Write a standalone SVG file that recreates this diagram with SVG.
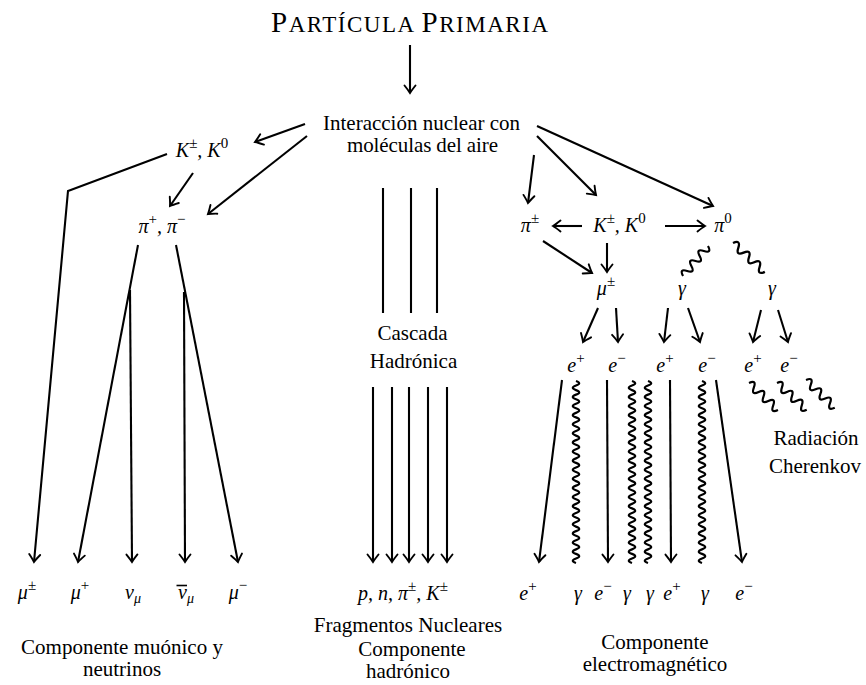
<svg xmlns="http://www.w3.org/2000/svg" xmlns:xlink="http://www.w3.org/1999/xlink" width="866" height="685" viewBox="0 0 866 685">
<style>
text{font-family:"Liberation Serif","DejaVu Serif",serif;fill:#000}
.t{font-size:21px}
.m{font-size:20px;font-style:italic}
.sp{font-size:15px;font-style:normal}
.si{font-size:14px;font-style:italic}
.c line,.c polyline{stroke:#000;stroke-width:2.1;fill:none}
.a{marker-end:url(#ah)}
.w{fill:none;stroke:#000;stroke-width:2.2}
</style>
<defs>
<marker id="ah" markerUnits="userSpaceOnUse" markerWidth="16" markerHeight="16" viewBox="-9 -8 11 16" refX="0" refY="0" orient="auto" overflow="visible">
<path d="M-7.5,-5.5 Q-2.5,-1.5 0,0 Q-2.5,1.5 -7.5,5.5" fill="none" stroke="#000" stroke-width="1.9" stroke-linecap="round"/>
</marker>
<path id="ws" d="M0,0 q3.33,-8 6.67,0 t6.67,0 t6.67,0 t6.67,0 t6.67,0 t6.67,0"/>
<path id="wl" d="M0,0 q2.275,-6.4 4.55,0 t4.55,0 t4.55,0 t4.55,0 t4.55,0 t4.55,0 t4.55,0 t4.55,0 t4.55,0 t4.55,0 t4.55,0 t4.55,0 t4.55,0 t4.55,0 t4.55,0 t4.55,0 t4.55,0 t4.55,0 t4.55,0 t4.55,0 t4.55,0 t4.55,0 t4.55,0 t4.55,0 t4.55,0 t4.55,0 t4.55,0 t4.55,0 t4.55,0 t4.55,0 t4.55,0 t4.55,0 t4.55,0 t4.55,0 t4.55,0 t4.55,0 t4.55,0 t4.55,0 t4.55,0 t4.55,0"/>
</defs>
<rect width="866" height="685" fill="#fff"/>

<g id="connectors" class="c">
<line class="a" x1="410" y1="45" x2="410" y2="93"/>
<line class="a" x1="305" y1="124" x2="255" y2="142"/>
<line class="a" x1="307" y1="136" x2="208" y2="214"/>
<line class="a" x1="193" y1="173" x2="170" y2="206"/>
<polyline class="a" points="167,154 68,191 34,562"/>
<line class="a" x1="138" y1="245" x2="78" y2="562"/>
<line class="a" x1="130" y1="290" x2="132" y2="562"/>
<line class="a" x1="176" y1="245" x2="238" y2="562"/>
<line class="a" x1="184" y1="292" x2="185" y2="562"/>
<line x1="383" y1="188" x2="383" y2="313"/>
<line x1="411" y1="188" x2="411" y2="313"/>
<line x1="437" y1="188" x2="437" y2="313"/>
<line class="a" x1="373" y1="387" x2="373" y2="562"/>
<line class="a" x1="392" y1="387" x2="392" y2="562"/>
<line class="a" x1="409" y1="387" x2="409" y2="562"/>
<line class="a" x1="428" y1="387" x2="428" y2="562"/>
<line class="a" x1="447" y1="387" x2="447" y2="562"/>
<line class="a" x1="537" y1="126" x2="713" y2="206"/>
<line class="a" x1="537" y1="136" x2="596" y2="195"/>
<line class="a" x1="534" y1="155" x2="528" y2="203"/>
<line class="a" x1="582" y1="226" x2="553" y2="226"/>
<line class="a" x1="665" y1="226" x2="705" y2="226"/>
<line class="a" x1="607" y1="243" x2="607" y2="272"/>
<line class="a" x1="543" y1="241" x2="592" y2="273"/>
<line class="a" x1="598" y1="308" x2="583" y2="342"/>
<line class="a" x1="616" y1="308" x2="618" y2="342"/>
<line class="a" x1="668" y1="308" x2="664" y2="342"/>
<line class="a" x1="688" y1="308" x2="700" y2="342"/>
<line class="a" x1="761" y1="310" x2="753" y2="342"/>
<line class="a" x1="778" y1="310" x2="788" y2="342"/>
<line class="a" x1="562" y1="380" x2="539" y2="562"/>
<line class="a" x1="607" y1="380" x2="608" y2="562"/>
<line class="a" x1="670" y1="380" x2="671" y2="562"/>
<line class="a" x1="716" y1="380" x2="742" y2="562"/>
<use class="w" xlink:href="#ws" transform="translate(708,246) rotate(129.8) scale(0.975,1)"/>
<use class="w" xlink:href="#ws" transform="translate(733,243) rotate(42.2) scale(1.075,1)"/>
<use class="w" xlink:href="#ws" transform="translate(749,383) rotate(43) scale(0.99,1)"/>
<use class="w" xlink:href="#ws" transform="translate(777,383) rotate(42) scale(1.0,1)"/>
<use class="w" xlink:href="#ws" transform="translate(806,380) rotate(44) scale(1.0,1)"/>
<use class="w" xlink:href="#wl" transform="translate(576,381) rotate(90)"/>
<use class="w" xlink:href="#wl" transform="translate(632,381) rotate(90)"/>
<use class="w" xlink:href="#wl" transform="translate(648,381) rotate(90)"/>
<use class="w" xlink:href="#wl" transform="translate(702,381) rotate(90)"/>
</g>

<g id="primaria"><text x="271" y="32" textLength="277" lengthAdjust="spacing"><tspan font-size="29">P</tspan><tspan font-size="23">ARTÍCULA </tspan><tspan font-size="29">P</tspan><tspan font-size="23">RIMARIA</tspan></text></g>
<g id="interaccion"><text class="t" x="421.5" y="130" text-anchor="middle" textLength="197" lengthAdjust="spacing">Interacción nuclear con</text><text class="t" x="422.5" y="152" text-anchor="middle" textLength="151" lengthAdjust="spacing">moléculas del aire</text></g>
<g id="kaon-l"><text class="m" x="202" y="157" text-anchor="middle">K<tspan class="sp" dy="-9">±</tspan><tspan dy="9">, K</tspan><tspan class="sp" dy="-9">0</tspan></text></g>
<g id="pion-l"><text class="m" x="162" y="233" text-anchor="middle">π<tspan class="sp" dy="-9">+</tspan><tspan dy="9">, π</tspan><tspan class="sp" dy="-9">−</tspan></text></g>
<g id="cascada"><text class="t" x="412.5" y="340" text-anchor="middle">Cascada</text><text class="t" x="413.5" y="368" text-anchor="middle">Hadrónica</text></g>
<g id="pion-pm"><text class="m" x="530" y="232" text-anchor="middle">π<tspan class="sp" dy="-9">±</tspan></text></g>
<g id="kaon-r"><text class="m" x="619.5" y="232" text-anchor="middle">K<tspan class="sp" dy="-9">±</tspan><tspan dy="9">, K</tspan><tspan class="sp" dy="-9">0</tspan></text></g>
<g id="pion-0"><text class="m" x="723" y="232" text-anchor="middle">π<tspan class="sp" dy="-9">0</tspan></text></g>
<g id="muon"><text class="m" x="606" y="295" text-anchor="middle">μ<tspan class="sp" dy="-9">±</tspan></text></g>
<g id="gamma1"><text class="m" x="682" y="295" text-anchor="middle">γ</text></g>
<g id="gamma2"><text class="m" x="772" y="295" text-anchor="middle">γ</text></g>
<g id="e-row">
<text class="m" x="576" y="372" text-anchor="middle">e<tspan class="sp" dy="-9">+</tspan></text>
<text class="m" x="617" y="372" text-anchor="middle">e<tspan class="sp" dy="-9">−</tspan></text>
<text class="m" x="665" y="372" text-anchor="middle">e<tspan class="sp" dy="-9">+</tspan></text>
<text class="m" x="707" y="372" text-anchor="middle">e<tspan class="sp" dy="-9">−</tspan></text>
<text class="m" x="753" y="372" text-anchor="middle">e<tspan class="sp" dy="-9">+</tspan></text>
<text class="m" x="789" y="372" text-anchor="middle">e<tspan class="sp" dy="-9">−</tspan></text>
</g>
<g id="cherenkov"><text class="t" x="816" y="445" text-anchor="middle">Radiación</text><text class="t" x="815" y="473" text-anchor="middle">Cherenkov</text></g>
<g id="bottom-left">
<text class="m" x="27" y="599" text-anchor="middle">μ<tspan class="sp" dy="-9">±</tspan></text>
<text class="m" x="80" y="599" text-anchor="middle">μ<tspan class="sp" dy="-9">+</tspan></text>
<text class="m" x="133" y="599" text-anchor="middle">ν<tspan class="si" dy="4">μ</tspan></text>
<text class="m" x="186" y="599" text-anchor="middle">ν<tspan class="si" dy="4">μ</tspan></text>
<line x1="176.5" y1="585.5" x2="187" y2="585.5" stroke="#000" stroke-width="1.6"/>
<text class="m" x="238" y="599" text-anchor="middle">μ<tspan class="sp" dy="-9">−</tspan></text>
</g>
<g id="bottom-mid"><text class="m" x="403" y="600" text-anchor="middle">p, n, π<tspan class="sp" dy="-9">±</tspan><tspan dy="9">, K</tspan><tspan class="sp" dy="-9">±</tspan></text></g>
<g id="bottom-right">
<text class="m" x="528" y="600" text-anchor="middle">e<tspan class="sp" dy="-9">+</tspan></text>
<text class="m" x="578" y="600" text-anchor="middle">γ</text>
<text class="m" x="603" y="600" text-anchor="middle">e<tspan class="sp" dy="-9">−</tspan></text>
<text class="m" x="627" y="600" text-anchor="middle">γ</text>
<text class="m" x="650" y="600" text-anchor="middle">γ</text>
<text class="m" x="672" y="600" text-anchor="middle">e<tspan class="sp" dy="-9">+</tspan></text>
<text class="m" x="705" y="600" text-anchor="middle">γ</text>
<text class="m" x="744" y="600" text-anchor="middle">e<tspan class="sp" dy="-9">−</tspan></text>
</g>
<g id="label-muonico"><text class="t" x="122" y="654" text-anchor="middle">Componente muónico y</text><text class="t" x="122" y="676" text-anchor="middle">neutrinos</text></g>
<g id="label-hadronico"><text class="t" x="408" y="632" text-anchor="middle">Fragmentos Nucleares</text><text class="t" x="412" y="656" text-anchor="middle">Componente</text><text class="t" x="408" y="678" text-anchor="middle">hadrónico</text></g>
<g id="label-em"><text class="t" x="655" y="649" text-anchor="middle">Componente</text><text class="t" x="655" y="671" text-anchor="middle">electromagnético</text></g>
</svg>
